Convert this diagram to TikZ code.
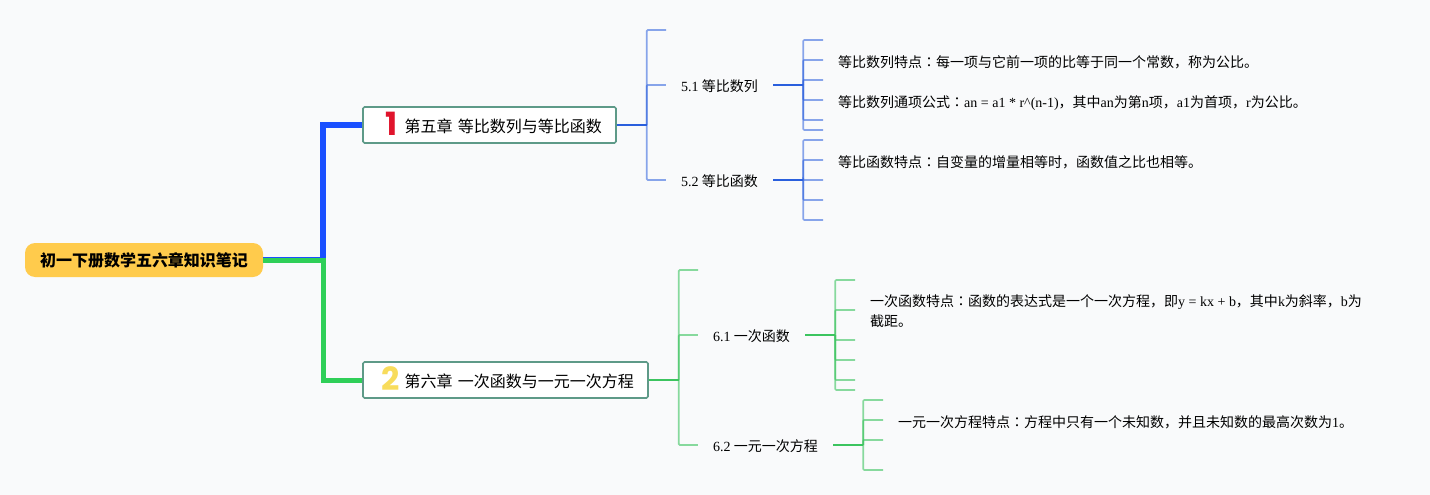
\documentclass[tikz,border=0pt]{standalone}
\usepackage{fontspec}
\setmainfont{Noto Sans CJK SC}
\newfontfamily\latinfont{Liberation Serif}
\newfontfamily\markfont{Poppins}
\newfontfamily\jpfont{Noto Sans CJK JP}
\usetikzlibrary{positioning,calc}
\definecolor{pagebg}{HTML}{F9FAFB}
\definecolor{rootfill}{HTML}{FFCB4C}
\definecolor{boxline}{HTML}{5E9A88}
\definecolor{blueA}{HTML}{1A50FF}
\definecolor{blueB}{HTML}{2A5FDD}
\definecolor{greenA}{HTML}{2FCF58}
\definecolor{greenB}{HTML}{3CC45F}
\definecolor{markred}{HTML}{E0142C}
\definecolor{markyellow}{HTML}{F8DC5C}
\newcommand{\lat}[1]{{\latinfont #1}}
\newcommand{\colonmark}{{\jpfont ：}}
\tikzset{
  rootbox/.style={fill=rootfill,rounded corners=10pt,minimum width=238pt,minimum height=34pt,
                  inner sep=0pt,text height=15pt,text depth=2pt,font=\fontsize{16}{20}\selectfont\bfseries},
  chapbox/.style={draw=boxline,line width=1.6pt,fill=white,rounded corners=1.5pt,minimum height=36pt,
                  inner ysep=0pt,inner xsep=14pt,align=right,text height=16pt,text depth=1pt,
                  font=\fontsize{16}{20}\selectfont},
  marknum/.style={font=\fontsize{32}{32}\selectfont\markfont\bfseries,inner sep=0pt},
  subnode/.style={inner sep=0pt,text height=14pt,text depth=1pt,font=\fontsize{14}{20}\selectfont},
  leaf/.style={anchor=west,inner xsep=15pt,inner ysep=0pt,align=left,text height=15pt,text depth=1pt,
               font=\fontsize{14}{20}\selectfont},
  bluethick/.style={blueA,line width=5.8pt},
  greenthick/.style={greenA,line width=5pt},
  bluestub/.style={blueB,line width=1.7pt,opacity=.55,rounded corners=1pt},
  greenstub/.style={greenB,line width=1.7pt,opacity=.6,rounded corners=1pt},
  blueln/.style={blueB,line width=2pt},
  greenln/.style={greenB,line width=2pt},
}
\begin{document}
\begin{tikzpicture}[x=1pt,y=-1pt]
\useasboundingbox[fill=pagebg] (0,0) rectangle (1430,495);

\node[rootbox] (root) at (144,260) {初一下册数学五六章知识笔记};
\node[chapbox,text width=225pt] (ch5) at (489.5,125) {第五章 等比数列与等比函数};
\node[chapbox,text width=257pt] (ch6) at (505.5,380) {第六章 一次函数与一元一次方程};
\node[marknum,markred] (mk5) at (392,124) {1};
\node[marknum,markyellow] (mk6) at (391,379) {2};

\draw[bluethick] (root.east) -| (323,260) |- (ch5.west);
\draw[greenthick] (root.east) -| (323,260) |- (ch6.west);

% chapter five
\coordinate (j5) at ($(ch5.east)+(30,0)$);
\node[subnode,minimum width=107pt] (n51) at (719.5,85) {\lat{5.1} 等比数列};
\node[subnode,minimum width=107pt] (n52) at (719.5,180) {\lat{5.2} 等比函数};
\coordinate (top5) at (666,30);
\draw[blueln] (ch5.east) -- (j5);
\draw[bluestub] (j5) |- (top5);
\draw[bluestub] (j5) |- (n51.west);
\draw[bluestub] (j5) |- (n52.west);

\coordinate (j51) at ($(n51.east)+(30,0)$);
\node[leaf] (l511) at (823,60) {等比数列特点\colonmark 每一项与它前一项的比等于同一个常数，称为公比。};
\node[leaf] (l512) at (823,100) {等比数列通项公式\colonmark\lat{an = a1 * r\^{}(n-1)}，其中\lat{an}为第\lat{n}项，\lat{a1}为首项，\lat{r}为公比。};
\draw[blueln] (n51.east) -- (j51);
\draw[bluestub] (j51) |- (l511.west);
\draw[bluestub] (j51) |- (l512.west);
\foreach \y [count=\i] in {40,80,120,130}{
  \coordinate (e51\i) at (823,\y);
  \draw[bluestub] (j51) |- (e51\i);
}

\coordinate (j52) at ($(n52.east)+(30,0)$);
\node[leaf] (l521) at (823,160) {等比函数特点\colonmark 自变量的增量相等时，函数值之比也相等。};
\draw[blueln] (n52.east) -- (j52);
\draw[bluestub] (j52) |- (l521.west);
\foreach \y [count=\i] in {140,180,200,220}{
  \coordinate (e52\i) at (823,\y);
  \draw[bluestub] (j52) |- (e52\i);
}

% chapter six
\coordinate (j6) at ($(ch6.east)+(30,0)$);
\node[subnode,minimum width=107pt] (n61) at (751.5,335) {\lat{6.1} 一次函数};
\node[subnode,minimum width=135pt] (n62) at (765.5,445) {\lat{6.2} 一元一次方程};
\coordinate (top6) at (698,270);
\draw[greenln] (ch6.east) -- (j6);
\draw[greenstub] (j6) |- (top6);
\draw[greenstub] (j6) |- (n61.west);
\draw[greenstub] (j6) |- (n62.west);

\coordinate (j61) at ($(n61.east)+(30,0)$);
\node[leaf,text height=35pt,text depth=3pt] (l611) at (855,310) {一次函数特点\colonmark 函数的表达式是一个一次方程，即\lat{y = kx + b}，其中\lat{k}为斜率，\lat{b}为\\截距。};
\draw[greenln] (n61.east) -- (j61);
\draw[greenstub] (j61) |- (l611.west);
\foreach \y [count=\i] in {280,340,360,380,390}{
  \coordinate (e61\i) at (855,\y);
  \draw[greenstub] (j61) |- (e61\i);
}

\coordinate (j62) at ($(n62.east)+(30,0)$);
\node[leaf] (l621) at (883,420) {一元一次方程特点\colonmark 方程中只有一个未知数，并且未知数的最高次数为\lat{1}。};
\draw[greenln] (n62.east) -- (j62);
\draw[greenstub] (j62) |- (l621.west);
\foreach \y [count=\i] in {400,440,470}{
  \coordinate (e62\i) at (883,\y);
  \draw[greenstub] (j62) |- (e62\i);
}
\end{tikzpicture}
\end{document}
